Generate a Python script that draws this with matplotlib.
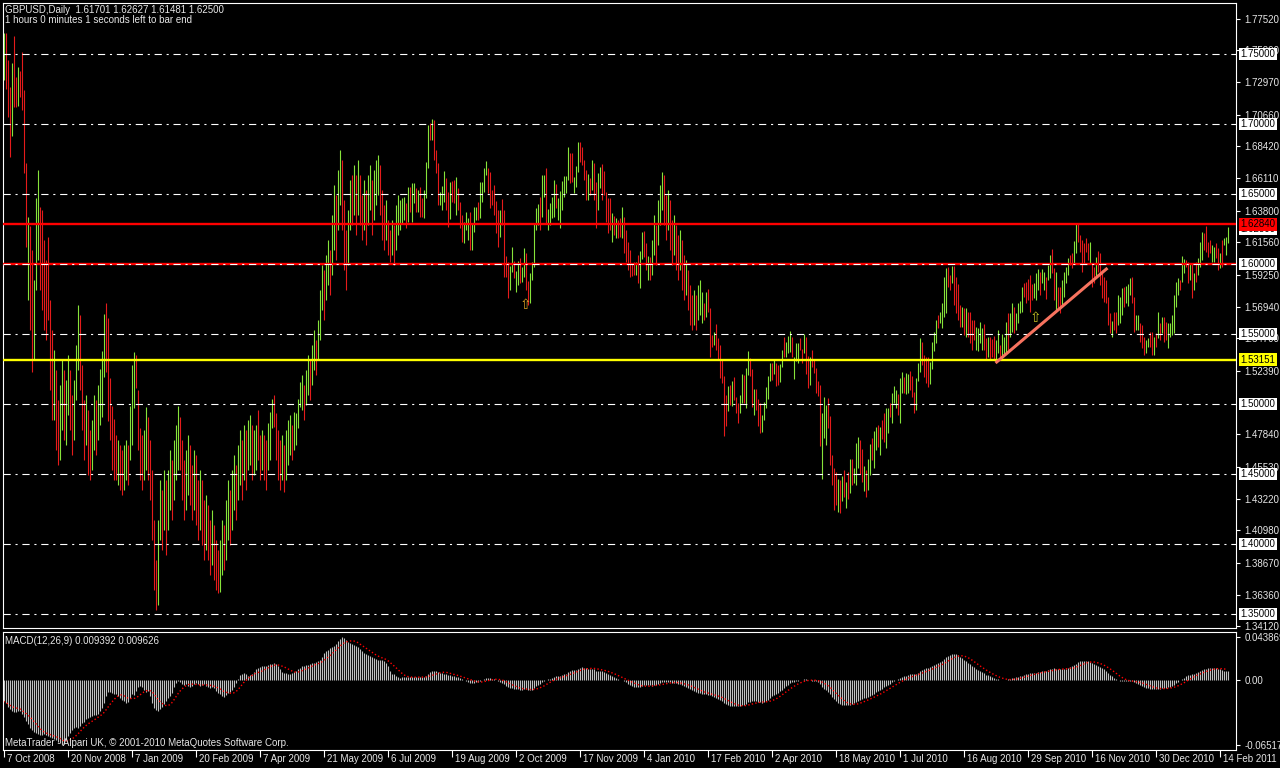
import numpy as np
import pandas as pd
import matplotlib
matplotlib.use("Agg")
import matplotlib.pyplot as plt

# GBPUSD daily bars, prices in pips (1.xxxx * 10000), bar 0 = 7 Oct 2008
HIGH = [
    17650, 17650, 17457, 17265, 17436, 17630, 17336, 17408, 17380, 17515,
    17243, 16722, 16336, 16272, 16100, 15886, 16472, 16672, 16408, 16386,
    16171, 16029, 16193, 15743, 15529, 15386, 15243, 15029, 15136, 15314,
    15243, 15171, 15350, 15243, 15064, 15171, 15421, 15707, 15636, 15279,
    15029, 15064, 14957, 14814, 14886, 15064, 15029, 15136, 15250, 15379,
    15643, 15721, 15614, 15186, 14986, 14893, 14779, 14743, 14707, 14671,
    14707, 14743, 14707, 14986, 15279, 15371, 15350, 15100, 14829, 14779,
    14814, 14979, 14907, 14743, 14529, 14171, 13886, 14171, 14457, 14386,
    14529, 14457, 14529, 14671, 14600, 14743, 14850, 14986, 14907, 14743,
    14600, 14671, 14779, 14707, 14564, 14671, 14636, 14457, 14529, 14457,
    14314, 14350, 14279, 14171, 14243, 14136, 14029, 13957, 14029, 14171,
    14136, 14314, 14457, 14386, 14529, 14636, 14564, 14707, 14814, 14743,
    14850, 14814, 14886, 14921, 14850, 14814, 14850, 14957, 14779, 14814,
    14779, 14743, 14864, 14943, 15036, 15064, 14936, 14814, 14743, 14779,
    14707, 14814, 14886, 14921, 14850, 14943, 14936, 15036, 15157, 15207,
    15136, 15243, 15350, 15314, 15421, 15529, 15457, 15600, 15814, 15993,
    15957, 16064, 16171, 16100, 16350, 16564, 16493, 16671, 16814, 16743,
    16457, 16243, 16386, 16600, 16636, 16707, 16636, 16743, 16636, 16493,
    16600, 16529, 16636, 16707, 16600, 16671, 16743, 16779, 16707, 16529,
    16421, 16457, 16314, 16243, 16314, 16279, 16421, 16493, 16457, 16470,
    16481, 16434, 16553, 16548, 16582, 16577, 16541, 16529, 16548, 16470,
    16529, 16732, 16993, 17005, 17036, 17029, 16815, 16720, 16517, 16558,
    16667, 16612, 16517, 16589, 16593, 16601, 16624, 16543, 16446, 16351,
    16303, 16374, 16327, 16374, 16291, 16410, 16410, 16446, 16589, 16589,
    16684, 16736, 16684, 16660, 16529, 16565, 16453, 16386, 16386, 16465,
    16386, 16058, 16017, 15989, 16124, 16022, 15953, 16022, 16041, 15982,
    16112, 16077, 15879, 15939, 16017, 16291, 16398, 16429, 16482, 16636,
    16636, 16684, 16391, 16439, 16482, 16601, 16572, 16470, 16524, 16593,
    16629, 16629, 16839, 16791, 16791, 16624, 16703, 16874, 16874, 16839,
    16743, 16672, 16643, 16612, 16743, 16720, 16589, 16648, 16696, 16715,
    16667, 16517, 16470, 16470, 16363, 16343, 16327, 16315, 16327, 16410,
    16339, 16243, 16160, 16101, 16010, 16017, 16012, 16065, 16096, 16231,
    16236, 16148, 16060, 16053, 16171, 16350, 16279, 16457, 16564, 16657,
    16636, 16493, 16529, 16457, 16314, 16350, 16279, 16207, 16243, 16171,
    16064, 16029, 15957, 15850, 15779, 15814, 15779, 15850, 15886, 15800,
    15719, 15800, 15820, 15683, 15493, 15517, 15572, 15469, 15422, 15314,
    15200, 15064, 15129, 15136, 15164, 15191, 15053, 15010, 15064, 15214,
    15207, 15255, 15379, 15326, 15250, 15105, 15105, 15036, 15005, 14922,
    15017, 15119, 15200, 15295, 15295, 15314, 15291, 15279, 15283, 15386,
    15481, 15445, 15486, 15522, 15476, 15338, 15433, 15438, 15469, 15391,
    15498, 15476, 15345, 15333, 15386, 15314, 15260, 15167, 15136, 14933,
    15048, 14993, 15041, 14914, 14636, 14541, 14512, 14464, 14457, 14488,
    14529, 14445, 14517, 14607, 14605, 14541, 14719, 14764, 14743, 14679,
    14557, 14529, 14605, 14714, 14755, 14807, 14838, 14850, 14838, 14886,
    14933, 14969, 14969, 15010, 15076, 15129, 15100, 15072, 15183, 15231,
    15195, 15219, 15214, 15238, 15200, 15088, 15183, 15295, 15474, 15445,
    15350, 15338, 15338, 15298, 15445, 15512, 15600, 15636, 15657, 15719,
    15905, 15969, 15976, 15921, 15986, 15986, 15905, 15857, 15705, 15695,
    15683, 15688, 15660, 15660, 15600, 15600, 15552, 15540, 15588, 15540,
    15569, 15469, 15481, 15481, 15462, 15486, 15457, 15529, 15421, 15500,
    15476, 15588, 15648, 15648, 15724, 15695, 15648, 15719, 15738, 15838,
    15862, 15874, 15895, 15921, 15857, 15867, 15933, 15962, 15945, 15962,
    15945, 15910, 15993, 16064, 16105, 15969, 15945, 15838, 15838, 15886,
    15945, 15976, 16040, 16064, 16081, 16167, 16290, 16290, 16207, 16171,
    16152, 16183, 16152, 16155, 16005, 15981, 16052, 16093, 16081, 15957,
    15910, 15886, 15767, 15648, 15593, 15660, 15660, 15779, 15767, 15826,
    15838, 15843, 15857, 15898, 15910, 15767, 15636, 15636, 15576, 15564,
    15481, 15457, 15469, 15517, 15517, 15481, 15505, 15660, 15576, 15624,
    15624, 15588, 15576, 15576, 15636, 15779, 15874, 15898, 15886, 16057,
    16033, 16029, 16017, 16005, 16005, 15933, 16017, 16040, 16160, 16231,
    16219, 16271, 16160, 16171, 16136, 16124, 16148, 16112, 16076, 16171,
    16183, 16195, 16263,
]
LOW = [
    17315, 17250, 17050, 16765, 16915, 17120, 17120, 17130, 17193, 17100,
    16650, 16122, 15743, 15529, 15230, 15314, 15814, 16029, 15814, 15671,
    15529, 15457, 15600, 15100, 14886, 14886, 14671, 14564, 14600, 14814,
    14743, 14707, 14921, 14814, 14636, 14743, 15029, 15243, 15100, 14814,
    14600, 14707, 14493, 14457, 14529, 14671, 14636, 14743, 14850, 14907,
    15193, 15229, 14879, 14743, 14529, 14457, 14457, 14421, 14386, 14350,
    14386, 14457, 14421, 14600, 14707, 14971, 15114, 14671, 14457, 14386,
    14457, 14529, 14457, 14314, 14029, 13671, 13529, 13564, 14029, 13957,
    14100, 13921, 14100, 14243, 14171, 14314, 14457, 14529, 14529, 14314,
    14171, 14243, 14350, 14279, 14171, 14243, 14136, 14029, 14100, 13993,
    13886, 13957, 13886, 13779, 13850, 13743, 13671, 13650, 13657, 13779,
    13814, 13886, 14029, 13993, 14100, 14243, 14171, 14314, 14421, 14314,
    14457, 14386, 14529, 14564, 14457, 14493, 14529, 14600, 14457, 14529,
    14457, 14386, 14529, 14600, 14829, 14836, 14600, 14457, 14386, 14457,
    14371, 14457, 14564, 14636, 14600, 14671, 14707, 14829, 14979, 14957,
    14886, 14993, 15064, 15029, 15136, 15243, 15207, 15314, 15457, 15671,
    15600, 15743, 15850, 15779, 15921, 16100, 16029, 16243, 16421, 16243,
    15957, 15814, 15993, 16243, 16279, 16350, 16207, 16350, 16279, 16171,
    16243, 16136, 16279, 16386, 16207, 16314, 16421, 16493, 16350, 16171,
    16100, 16171, 16064, 16014, 16064, 15993, 16100, 16207, 16243, 16291,
    16315, 16255, 16303, 16374, 16303, 16434, 16374, 16374, 16339, 16339,
    16327, 16470, 16684, 16886, 16886, 16743, 16648, 16422, 16422, 16386,
    16446, 16386, 16267, 16320, 16446, 16434, 16351, 16386, 16255, 16160,
    16148, 16243, 16172, 16101, 16101, 16231, 16315, 16315, 16327, 16446,
    16517, 16636, 16510, 16398, 16422, 16351, 16220, 16124, 16196, 16279,
    15910, 15910, 15760, 15815, 15946, 15898, 15803, 15851, 15862, 15874,
    15910, 15815, 15708, 15720, 15886, 15982, 16243, 16279, 16243, 16339,
    16481, 16291, 16243, 16279, 16327, 16339, 16398, 16315, 16255, 16386,
    16481, 16510, 16601, 16577, 16589, 16505, 16553, 16660, 16732, 16708,
    16601, 16458, 16458, 16493, 16529, 16458, 16260, 16386, 16541, 16458,
    16493, 16303, 16220, 16243, 16160, 16208, 16184, 16184, 16196, 16184,
    16077, 16017, 15958, 15910, 15915, 15922, 15922, 15863, 15827, 16034,
    16053, 15958, 15886, 15886, 15921, 16064, 15993, 16136, 16279, 16386,
    16279, 16171, 16243, 16100, 15993, 16064, 15957, 15886, 15957, 15814,
    15743, 15779, 15671, 15564, 15529, 15564, 15529, 15600, 15636, 15576,
    15600, 15619, 15660, 15338, 15410, 15422, 15386, 15314, 15183, 15148,
    14774, 14843, 14953, 14993, 14988, 15029, 14934, 14867, 14934, 15005,
    15010, 14969, 15207, 15200, 14981, 14922, 14957, 14843, 14791, 14803,
    14886, 14969, 15038, 15167, 15172, 15214, 15129, 15136, 15160, 15262,
    15338, 15333, 15367, 15374, 15338, 15179, 15310, 15291, 15386, 15291,
    15367, 15214, 15117, 15136, 15267, 15219, 15076, 15057, 14700, 14464,
    14755, 14707, 14826, 14564, 14422, 14243, 14279, 14231, 14224, 14310,
    14338, 14255, 14319, 14362, 14422, 14433, 14422, 14545, 14500, 14445,
    14381, 14338, 14386, 14493, 14600, 14541, 14672, 14695, 14636, 14748,
    14731, 14683, 14795, 14910, 14867, 15005, 14969, 14922, 14867, 15076,
    15081, 15072, 15076, 15100, 15053, 14938, 14957, 15167, 15231, 15279,
    15191, 15153, 15119, 15143, 15248, 15380, 15433, 15540, 15576, 15540,
    15624, 15648, 15838, 15814, 15862, 15707, 15648, 15600, 15552, 15552,
    15493, 15481, 15481, 15433, 15386, 15457, 15386, 15381, 15433, 15386,
    15386, 15314, 15338, 15314, 15338, 15314, 15302, 15362, 15314, 15338,
    15350, 15362, 15386, 15481, 15517, 15505, 15529, 15576, 15648, 15660,
    15767, 15719, 15743, 15660, 15743, 15755, 15743, 15814, 15779, 15862,
    15814, 15748, 15886, 15898, 15933, 15743, 15671, 15671, 15652, 15707,
    15767, 15862, 15921, 15993, 15969, 16005, 16076, 16160, 16088, 15945,
    16005, 16088, 16029, 16005, 15838, 15862, 15914, 15945, 15850, 15755,
    15731, 15719, 15564, 15505, 15481, 15529, 15505, 15564, 15576, 15636,
    15695, 15719, 15700, 15779, 15719, 15517, 15529, 15529, 15445, 15398,
    15350, 15362, 15410, 15410, 15350, 15350, 15410, 15469, 15457, 15505,
    15445, 15457, 15398, 15481, 15493, 15505, 15695, 15779, 15814, 15874,
    15933, 15981, 15862, 15886, 15755, 15814, 15874, 15921, 15981, 16029,
    16100, 16088, 16052, 16076, 16017, 16017, 16040, 15957, 15969, 15981,
    16136, 16064, 16148,
]
# u = up bar (close above open), d = down bar
DIRS = """
u d d d u d d u d d
d d u d d u u u d d
d d d d d u d d u u
d u u d d u u u d d
d u d d u u d u u u
u d d d d d d u d d
u u d u u u d d d d
u u d d d d d u u d
u d u u d u u u d d
d u u d d u d d u d
d u d d u d d d u u
d u u d u u d u u d
u d u u d u u d d u
d d u u u d d d d u
d u u u d u u u u u
d u u d u u d u u u
d u u d u u d u u d
d d u u d u d u d d
u d u u d u u u d d
d u d d u d u u u u
u d u d u u d u d d
u u u d u d d d u u
u d d u d d u d d d
u u u d u u u d u u
u u d d d d d d u d
d d d u u d u u d u
u d d u u u u u d u
u d u u u u d u u u
u u u d d u u u d d
d d u d u d d u u d
d d d d u d u d d u
d d d d d d u d u u
d d u d u u d u u u
d d u d d u d d u d
d u d d d u d u u u
d u d d d u d d d d
d d u d u d d d u u
d u u d d u d d d u
u u u u d u d d u u
d u u u d u u u d d
u d d u d d d d d u
u u d d d d d u d u
d u d u d u u u d d
u d u u d u u d u d
d u u d u u u d u u
d u u d d d u u u d
d d d u u u u d u u
u u d d u d d d d u
d u d d d d u u u u
d d u d d d u u d u
u u d u u d u u u u
d d d d d u u u d u
u d u u d d u d d u
u u u d d u u d d d
d d d u d d u d d d
d d d d u d d u u u
d u u u d d u u d d
d u u d d u d u d u
d d u u u u u u d u
u d d u d u d u u u
d d d d u u d d u d
u u u
""".split()

# MACD(12,26,9) main line, units of 1e-4
MACD = [
    -211, -229, -264, -289, -310, -317, -317, -310, -310, -334,
    -370, -405, -440, -475, -500, -521, -528, -539, -546, -546,
    -539, -546, -563, -570, -581, -591, -605, -620, -634, -651,
    -641, -605, -563, -528, -500, -475, -465, -475, -458, -429,
    -415, -394, -380, -370, -359, -352, -352, -334, -310, -275,
    -229, -158, -113, -113, -123, -134, -141, -158, -176, -194,
    -211, -229, -218, -176, -141, -148, -106, -63, -53, -70,
    -99, -113, -106, -158, -229, -275, -299, -306, -289, -264,
    -239, -211, -176, -158, -123, -63, -28, -7, -18, -35,
    -42, -35, -53, -63, -53, -35, -28, -35, -53, -46,
    -35, -53, -70, -77, -63, -77, -106, -123, -134, -158,
    -169, -148, -123, -113, -99, -70, -28, 18, 53, 70,
    77, 70, 42, 53, 70, 88, 113, 123, 134, 141,
    148, 148, 158, 162, 169, 176, 165, 141, 113, 88,
    77, 77, 70, 70, 77, 88, 99, 113, 123, 141,
    148, 158, 158, 169, 176, 176, 183, 194, 211, 239,
    282, 299, 310, 324, 334, 352, 370, 394, 422, 440,
    429, 405, 387, 380, 370, 359, 352, 334, 317, 299,
    282, 264, 253, 246, 239, 229, 218, 211, 211, 204,
    194, 176, 141, 99, 70, 63, 42, 35, 28,
    30, 32, 30, 32, 35, 36, 36, 35, 34, 33,
    30, 32, 45, 65, 82, 95, 100, 95, 85, 78,
    72, 70, 62, 55, 50, 45, 40, 38, 32, 22,
    10, 0, -8, -15, -22, -25, -22, -20, -18, -8,
    0, 12, 22, 25, 22, 18, 12, 2, -10, -18,
    -22, -38, -55, -68, -72, -78, -82, -88, -90, -92,
    -92, -88, -88, -98, -100, -95, -78, -60, -45, -32,
    -15, -2, 8, 12, 18, 25, 35, 40, 42, 48,
    55, 62, 70, 85, 95, 102, 105, 110, 120, 128,
    132, 130, 125, 120, 118, 115, 112, 100, 95, 95,
    92, 88, 78, 65, 55, 42, 30, 20, 10, 2,
    0, -8, -20, -32, -45, -55, -62, -68, -70, -65,
    -55, -50, -48, -48, -50, -52, -48, -45, -38, -28,
    -18, -15, -15, -15, -18, -22, -25, -30, -35, -40,
    -45, -55, -62, -72, -85, -98, -108, -118, -125, -130,
    -135, -138, -140, -142, -150, -160, -168, -175, -185, -195,
    -205, -225, -240, -250, -255, -258, -260, -262, -262, -258,
    -250, -245, -235, -222, -215, -210, -210, -212, -218, -222,
    -225, -222, -212, -195, -178, -162, -148, -135, -122, -108,
    -92, -75, -60, -45, -30, -20, -15, -8, -2, 2,
    5, 10, 10, 5, 0, -2, -5, -10, -18, -40,
    -65, -85, -100, -115, -140, -165, -190, -210, -225, -238,
    -245, -250, -252, -250, -245, -238, -230, -218, -205, -195,
    -188, -182, -175, -168, -158, -145, -132, -120, -108, -95,
    -82, -70, -58, -45, -32, -20, -8, 2, 10, 20,
    30, 40, 48, 55, 62, 65, 65, 68, 78, 95,
    108, 118, 125, 130, 135, 142, 152, 165, 178, 190,
    200, 215, 232, 245, 255, 262, 265, 262, 255, 240,
    225, 210, 195, 180, 165, 150, 135, 120, 108, 95,
    82, 72, 60, 50, 40, 30, 22, 15, 10, 5,
    2, 2, 5, 10, 15, 20, 25, 30, 35, 40,
    48, 55, 62, 68, 72, 75, 78, 80, 85, 90,
    95, 98, 100, 105, 112, 120, 122, 120, 115, 112,
    112, 115, 120, 128, 135, 142, 152, 168, 182, 192,
    195, 195, 195, 192, 188, 178, 165, 155, 148, 140,
    128, 115, 100, 80, 60, 40, 22, 10, 2, -5,
    -8, -10, -10, -10, -8, -8, -15, -25, -35, -45,
    -55, -65, -72, -78, -82, -85, -88, -88, -85, -82,
    -78, -75, -72, -70, -65, -58, -45, -30, -15, 0,
    15, 28, 40, 50, 58, 65, 70, 78, 85, 95,
    105, 112, 118, 122, 125, 125, 125, 122, 118, 112,
    105, 100, 96, 94,
]

DATE_BARS = list(range(0, 609, 32))
DATE_LABELS = ["7 Oct 2008", "20 Nov 2008", "7 Jan 2009", "20 Feb 2009", "7 Apr 2009",
               "21 May 2009", "6 Jul 2009", "19 Aug 2009", "2 Oct 2009", "17 Nov 2009",
               "4 Jan 2010", "17 Feb 2010", "2 Apr 2010", "18 May 2010", "1 Jul 2010",
               "16 Aug 2010", "29 Sep 2010", "16 Nov 2010", "30 Dec 2010", "14 Feb 2011"]
PRICE_TICKS = [1.77520, 1.75290, 1.72970, 1.70660, 1.68420, 1.66110, 1.63800, 1.61560,
               1.59250, 1.56940, 1.54700, 1.52390, 1.47840, 1.45530, 1.43220,
               1.40980, 1.38670, 1.36360, 1.34120]
LEVELS = [1.35, 1.40, 1.45, 1.50, 1.55, 1.60, 1.65, 1.70, 1.75]
RESIST = 1.62840
SUPPORT = 1.53151
BID = 1.62500
TREND_BARS = [496, 552]
TREND_PRICES = [1.5293, 1.5971]
ARROW_BARS = [261, 516]
ARROW_PRICES = [1.5705, 1.5612]
ARROW_COLORS = ["#d9a024", "#c4c024"]

GREEN = "#86e33a"
RED = "#e51b1b"
TXT = "#e6e6e6"
plt.rcParams["font.family"] = ["Liberation Sans", "DejaVu Sans"]

W, H = 1280, 768


def box(x0, y0, x1, y1):
    return [x0 / W, 1 - y1 / H, (x1 - x0) / W, (y1 - y0) / H]


fig = plt.figure(figsize=(12.8, 7.68), dpi=100, facecolor="black")
ax = fig.add_axes(box(3, 3, 1236, 628))
axm = fig.add_axes(box(3, 632, 1236, 750), sharex=ax)

for a in (ax, axm):
    a.set_facecolor("black")
    for s in a.spines.values():
        s.set_color("white")
        s.set_linewidth(0.8)

hi = np.array(HIGH) / 1e4
lo = np.array(LOW) / 1e4
up = np.array([d == "u" for d in DIRS])
x = np.arange(len(hi))
ax.vlines(x[up], lo[up], hi[up], color=GREEN, lw=0.8)
ax.vlines(x[~up], lo[~up], hi[~up], color=RED, lw=0.8)

# horizontal levels
dashdot = (0, (6.5, 4.3, 1.9, 4.3))
ax.axhline(RESIST, color="red", lw=1.7, zorder=3)
ax.axhline(1.60, color="red", lw=1.7, zorder=3)
ax.axhline(SUPPORT, color="yellow", lw=1.7, zorder=3)
for lv in LEVELS:
    ax.axhline(lv, color="white", lw=0.8, ls=dashdot, zorder=4)

ax.plot(TREND_BARS, TREND_PRICES, color="#f7735f", lw=2.2, solid_capstyle="butt", zorder=5)
for b, p, c in zip(ARROW_BARS, ARROW_PRICES, ARROW_COLORS):
    ax.text(b, p, "\u21e7", color=c, fontsize=10, ha="center", va="center",
            family="DejaVu Sans", zorder=6)

ax.set_xlim(-0.25, -0.25 + 1233 / 2)
ax.set_ylim(1.34, 1.78643)
ax.yaxis.tick_right()
ax.set_yticks(PRICE_TICKS)
ax.set_yticklabels([f"{v:.5f}" for v in PRICE_TICKS])
ax.tick_params(axis="y", colors="white", labelcolor=TXT, length=3, width=0.8,
               pad=3, labelsize=7)
ax.tick_params(axis="x", bottom=False, labelbottom=False)

ytr = ax.get_yaxis_transform()
bb = dict(boxstyle="square,pad=0.15", ec="none")
ax.text(1.0037, BID, f"{BID:.5f}", transform=ytr, ha="left", va="center", fontsize=7,
        color="black", bbox=dict(bb, fc="white"), clip_on=False, zorder=7)
for lv in LEVELS:
    ax.text(1.0037, lv, f"{lv:.5f}", transform=ytr, ha="left", va="center", fontsize=7,
            color="black", bbox=dict(bb, fc="white"), clip_on=False, zorder=7)
ax.text(1.0037, RESIST, f"{RESIST:.5f}", transform=ytr, ha="left", va="center", fontsize=7,
        color="black", bbox=dict(bb, fc="red"), clip_on=False, zorder=8)
ax.text(1.0037, SUPPORT, f"{SUPPORT:.5f}", transform=ytr, ha="left", va="center", fontsize=7,
        color="black", bbox=dict(bb, fc="yellow"), clip_on=False, zorder=8)

# MACD panel
macd = np.array(MACD) / 1e4
xm = np.arange(len(macd))
signal = pd.Series(macd).rolling(9, min_periods=1).mean()
axm.vlines(xm, 0, macd, color="#c0c0c0", lw=0.8)
axm.plot(xm, signal, color="red", lw=1.0, ls=(0, (1, 1.6)))
axm.set_ylim(-0.0702, 0.0489)
axm.yaxis.tick_right()
axm.set_yticks([0.043869, 0.0, -0.06517])
axm.set_yticklabels(["0.043869", "0.00", "-0.06517"])
axm.tick_params(axis="y", colors="white", labelcolor=TXT, length=3, width=0.8,
                pad=3, labelsize=7)
axm.set_xticks(DATE_BARS)
axm.tick_params(axis="x", colors="white", length=5, width=0.8, labelbottom=False)
xtr = axm.get_xaxis_transform()
for b, lab in zip(DATE_BARS, DATE_LABELS):
    axm.text(b + 1.6, -0.075, lab, transform=xtr, ha="left", va="center", fontsize=7,
             color=TXT, clip_on=False)

fig.text(5 / W, 1 - 10 / H, "GBPUSD,Daily  1.61701 1.62627 1.61481 1.62500",
         color=TXT, fontsize=7, va="center")
fig.text(5 / W, 1 - 20 / H, "1 hours 0 minutes 1 seconds left to bar end",
         color=TXT, fontsize=7, va="center")
fig.text(5 / W, 1 - 641 / H, "MACD(12,26,9) 0.009392 0.009626",
         color=TXT, fontsize=7, va="center")
fig.text(5 / W, 1 - 743 / H, "MetaTrader - Alpari UK, \u00a9 2001-2010 MetaQuotes Software Corp.",
         color=TXT, fontsize=7, va="center")

fig.savefig("out.png", dpi=100, facecolor="black")
